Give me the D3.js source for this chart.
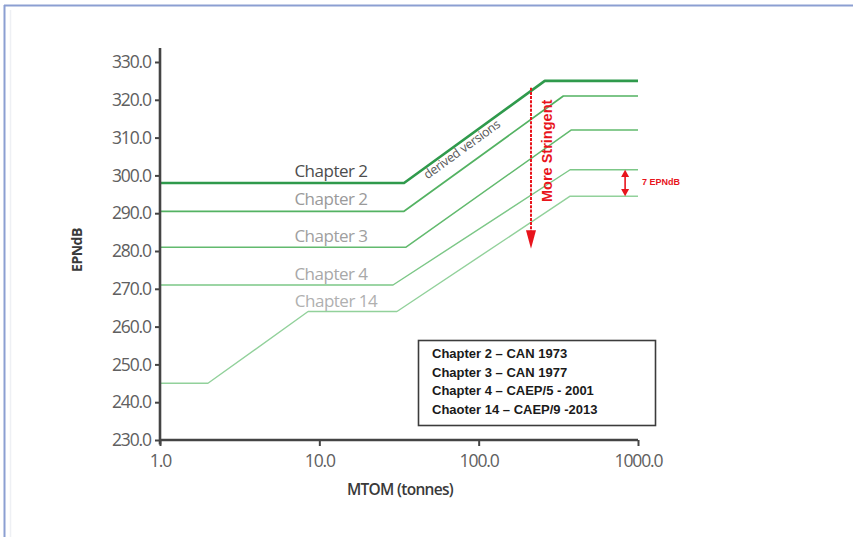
<!DOCTYPE html>
<html>
<head>
<meta charset="utf-8">
<script src="https://cdn.jsdelivr.net/npm/d3@7/dist/d3.min.js"></script>
<style>
  html, body { margin: 0; padding: 0; background: #fff; }
  svg { display: block; font-family: "Open Sans", "DejaVu Sans", sans-serif; }
</style>
</head>
<body>
<svg id="chart" width="853" height="537"></svg>
<script>
// Noise limit lines: EPNdB against maximum take-off mass (tonnes)
const chapterNames = ["Chapter 2", "Chapter 2", "Chapter 3", "Chapter 4", "Chapter 14"];
const chapter2Derived = [[1, 298], [34, 298], [260, 325], [1000, 325]];
const chapter2 = [[1, 290.5], [34, 290.5], [340, 321], [1000, 321]];
const chapter3 = [[1, 281], [35, 281], [380, 312], [1000, 312]];
const chapter4 = [[1, 271], [29, 271], [375, 301.5], [1000, 301.5]];
const chapter14 = [[1, 245], [2, 245], [8.5, 264], [30.7, 264], [375, 294.5], [1000, 294.5]];
const seriesValues = [chapter2Derived, chapter2, chapter3, chapter4, chapter14];

const xTicks = [1, 10, 100, 1000];
const yTicks = [230, 240, 250, 260, 270, 280, 290, 300, 310, 320, 330];
const legendLines = [
  "Chapter 2 \u2013 CAN 1973",
  "Chapter 3 \u2013 CAN 1977",
  "Chapter 4 \u2013 CAEP/5 - 2001",
  "Chaoter 14 \u2013 CAEP/9 -2013"
];

// Styling per line
const lineColors = ["#2f9a4c", "#53b262", "#62ba6e", "#7cc787", "#92d19b"];
const lineWidths = [2.6, 1.7, 1.5, 1.4, 1.4];
const labelColors = ["#4d4d4d", "#9a9a9a", "#a0a0a0", "#a8a8a8", "#b0b0b0"];
const labelAt = [[331, 172], [331, 200], [331, 237], [331, 275], [336, 302]];

const svg = d3.select("#chart");
const arial = "Liberation Sans, Arial, sans-serif";

// Window frame
svg.append("line").attr("x1", 4).attr("x2", 853).attr("y1", 5.5).attr("y2", 5.5)
  .attr("stroke", "#8c9fd2").attr("stroke-width", 2);
svg.append("line").attr("x1", 4.5).attr("x2", 4.5).attr("y1", 5).attr("y2", 537)
  .attr("stroke", "#8c9fd2").attr("stroke-width", 2);
svg.append("line").attr("x1", 10.5).attr("x2", 10.5).attr("y1", 10).attr("y2", 537)
  .attr("stroke", "#eef0f4").attr("stroke-width", 1.5);

const x = d3.scaleLog().domain([1, 1000]).range([160, 638]);
const y = d3.scaleLinear().domain([230, 330]).range([440, 62]);

// Limit lines
const line = d3.line().x(d => x(d[0])).y(d => y(d[1]));
seriesValues.slice().reverse().forEach((s, ri) => {
  const i = seriesValues.length - 1 - ri;
  svg.append("path").datum(s).attr("d", line)
    .attr("fill", "none").attr("stroke", lineColors[i])
    .attr("stroke-width", lineWidths[i]).attr("stroke-linejoin", "round");
});

// Line labels
chapterNames.forEach((n, i) => {
  svg.append("text").attr("x", labelAt[i][0]).attr("y", labelAt[i][1])
    .attr("text-anchor", "middle").attr("dominant-baseline", "middle")
    .attr("font-size", 17).attr("letter-spacing", -0.5)
    .attr("fill", labelColors[i]).text(n);
});

// "derived versions" along the slope
{
  const a = [x(34), y(298)], b = [x(260), y(325)];
  const ang = Math.atan2(b[1] - a[1], b[0] - a[0]) * 180 / Math.PI;
  svg.append("text")
    .attr("transform", `translate(${x(79)},${y(306.7)}) rotate(${ang})`)
    .attr("text-anchor", "middle").attr("dominant-baseline", "middle")
    .attr("font-size", 12.5).attr("letter-spacing", -0.3).attr("fill", "#5a5a5a")
    .text("derived versions");
}

// Axes
const yAxis = svg.append("g").attr("transform", `translate(${x(1)},0)`)
  .call(d3.axisLeft(y).tickValues(yTicks).tickFormat(d3.format(".1f")).tickSize(5).tickPadding(4));
const xAxis = svg.append("g").attr("transform", `translate(0,${y(230)})`)
  .call(d3.axisBottom(x).tickValues(xTicks).tickFormat(d3.format(".1f")).tickSize(6).tickPadding(9));
[yAxis, xAxis].forEach(g => {
  g.select(".domain").remove();
  g.selectAll(".tick line").attr("stroke", "#444").attr("stroke-width", 2);
  g.selectAll(".tick text").attr("fill", "#606060").attr("font-size", 17.5)
    .attr("letter-spacing", -1.1).style("font-family", "'Open Sans', sans-serif");
});
svg.append("line").attr("x1", x(1)).attr("x2", x(1)).attr("y1", y(333.7)).attr("y2", y(228.8))
  .attr("stroke", "#444").attr("stroke-width", 2.6);
svg.append("line").attr("x1", x(1)).attr("x2", x(1000)).attr("y1", y(230)).attr("y2", y(230))
  .attr("stroke", "#444").attr("stroke-width", 2.6);

// Axis titles
svg.append("text").attr("x", 400).attr("y", 491).attr("text-anchor", "middle")
  .attr("dominant-baseline", "middle").attr("font-size", 15.5).attr("font-weight", 600)
  .attr("letter-spacing", -0.7).attr("fill", "#3a3a3a").text("MTOM (tonnes)");
svg.append("text").attr("transform", "translate(78,250) rotate(-90)").attr("text-anchor", "middle")
  .attr("dominant-baseline", "middle").attr("font-size", 14).attr("font-weight", 700)
  .attr("letter-spacing", -0.5).attr("fill", "#3a3a3a").text("EPNdB");

// "More Stringent" arrow
const red = "#e8141c";
const ax = x(213);
svg.append("line").attr("x1", ax).attr("x2", ax).attr("y1", y(323.2)).attr("y2", y(284))
  .attr("stroke", red).attr("stroke-width", 2).attr("stroke-dasharray", "3,1.2");
svg.append("path")
  .attr("d", `M${ax - 5},${y(285.5)} L${ax + 5},${y(285.5)} L${ax},${y(280.6)} Z`)
  .attr("fill", red);
svg.append("text").attr("transform", `translate(${ax + 17},${y(306.5)}) rotate(-90)`)
  .attr("text-anchor", "middle").attr("dominant-baseline", "middle")
  .style("font-family", arial)
  .attr("font-size", 14.5).attr("font-weight", 700).attr("fill", red).text("More Stringent");

// 7 EPNdB gap marker
const gx = x(830);
svg.append("line").attr("x1", gx).attr("x2", gx).attr("y1", y(300.5)).attr("y2", y(295.5))
  .attr("stroke", red).attr("stroke-width", 1.6);
svg.append("path").attr("d", `M${gx - 4},${y(299.6)} L${gx + 4},${y(299.6)} L${gx},${y(301.5)} Z`).attr("fill", red);
svg.append("path").attr("d", `M${gx - 4},${y(296.4)} L${gx + 4},${y(296.4)} L${gx},${y(294.5)} Z`).attr("fill", red);
svg.append("text").attr("x", gx + 17).attr("y", y(298)).attr("dominant-baseline", "middle")
  .style("font-family", arial)
  .attr("font-size", 9).attr("font-weight", 700).attr("fill", red).text("7 EPNdB");

// Legend box
svg.append("rect").attr("x", 418.5).attr("y", 340.5).attr("width", 237).attr("height", 85)
  .attr("fill", "#fff").attr("stroke", "#3c3c3c").attr("stroke-width", 1.6);
legendLines.forEach((t, i) => {
  svg.append("text").attr("x", 432).attr("y", 355 + i * 18.5).attr("dominant-baseline", "middle")
    .style("font-family", arial)
    .attr("font-size", 13).attr("font-weight", 700).attr("fill", "#1a1a1a").text(t);
});
</script>
</body>
</html>
